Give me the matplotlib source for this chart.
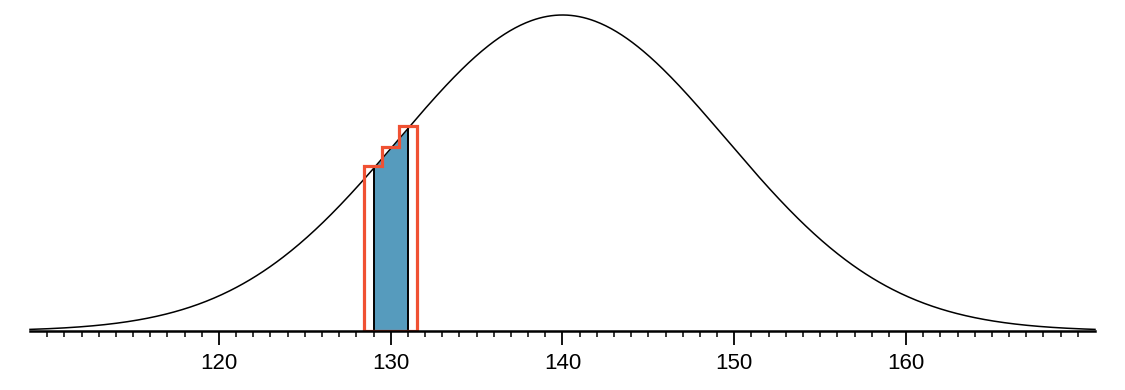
import matplotlib.pyplot as plt
import numpy as np

plt.rcParams['font.family'] = ['Liberation Sans', 'DejaVu Sans']

# normal approximation: mean and sd
mu = 140
sd = 9.54
x_range = [109, 171]

# shaded interval under the curve
shade_lo = 129
shade_hi = 131

# binomial bars (centres and heights)
bar_x = [129, 130, 131]
bar_h = [0.0218, 0.0244, 0.0271]

major_ticks = [120, 130, 140, 150, 160]

def dens(v):
    return np.exp(-0.5 * ((v - mu) / sd) ** 2) / (sd * np.sqrt(2 * np.pi))

fig = plt.figure(figsize=(11.25, 3.9), dpi=100)
ax = fig.add_axes([30 / 1125, 59 / 390, 1065 / 1125, 316 / 390])

x = np.linspace(x_range[0], x_range[1], 800)
ax.plot(x, dens(x), color='black', lw=1.1, clip_on=False, zorder=3)

xs = np.linspace(shade_lo, shade_hi, 100)
ax.fill_between(xs, 0, dens(xs), color='#569BBD', lw=0, zorder=1)
ax.vlines([shade_lo, shade_hi], 0, [dens(shade_lo), dens(shade_hi)],
          color='black', lw=1.4, zorder=2)

# red outline of the bars
edges = [b - 0.55 for b in bar_x] + [bar_x[-1] + 0.55]
edges[1] = bar_x[0] + 0.5
edges[2] = bar_x[1] + 0.5
sx = [edges[0]]
sy = [0]
for i in range(len(bar_x)):
    sx += [edges[i], edges[i + 1]]
    sy += [bar_h[i], bar_h[i]]
sx += [edges[-1], edges[0]]
sy += [0, 0]
ax.plot(sx, sy, color='#F05133', lw=2.3, zorder=4, solid_joinstyle='miter')

ax.set_xlim(x_range)
ax.set_ylim(0, dens(mu))
for s in ['left', 'right', 'top']:
    ax.spines[s].set_visible(False)
ax.spines['bottom'].set_linewidth(1.8)
ax.spines['bottom'].set_zorder(5)
ax.set_yticks([])
ax.set_xticks(major_ticks)
ax.set_xticks(np.arange(110, 171, 1), minor=True)
ax.tick_params(axis='x', which='major', length=10, width=1.3, labelsize=16, pad=6)
ax.tick_params(axis='x', which='minor', length=4, width=1.1)

fig.savefig('out.png', dpi=100)
